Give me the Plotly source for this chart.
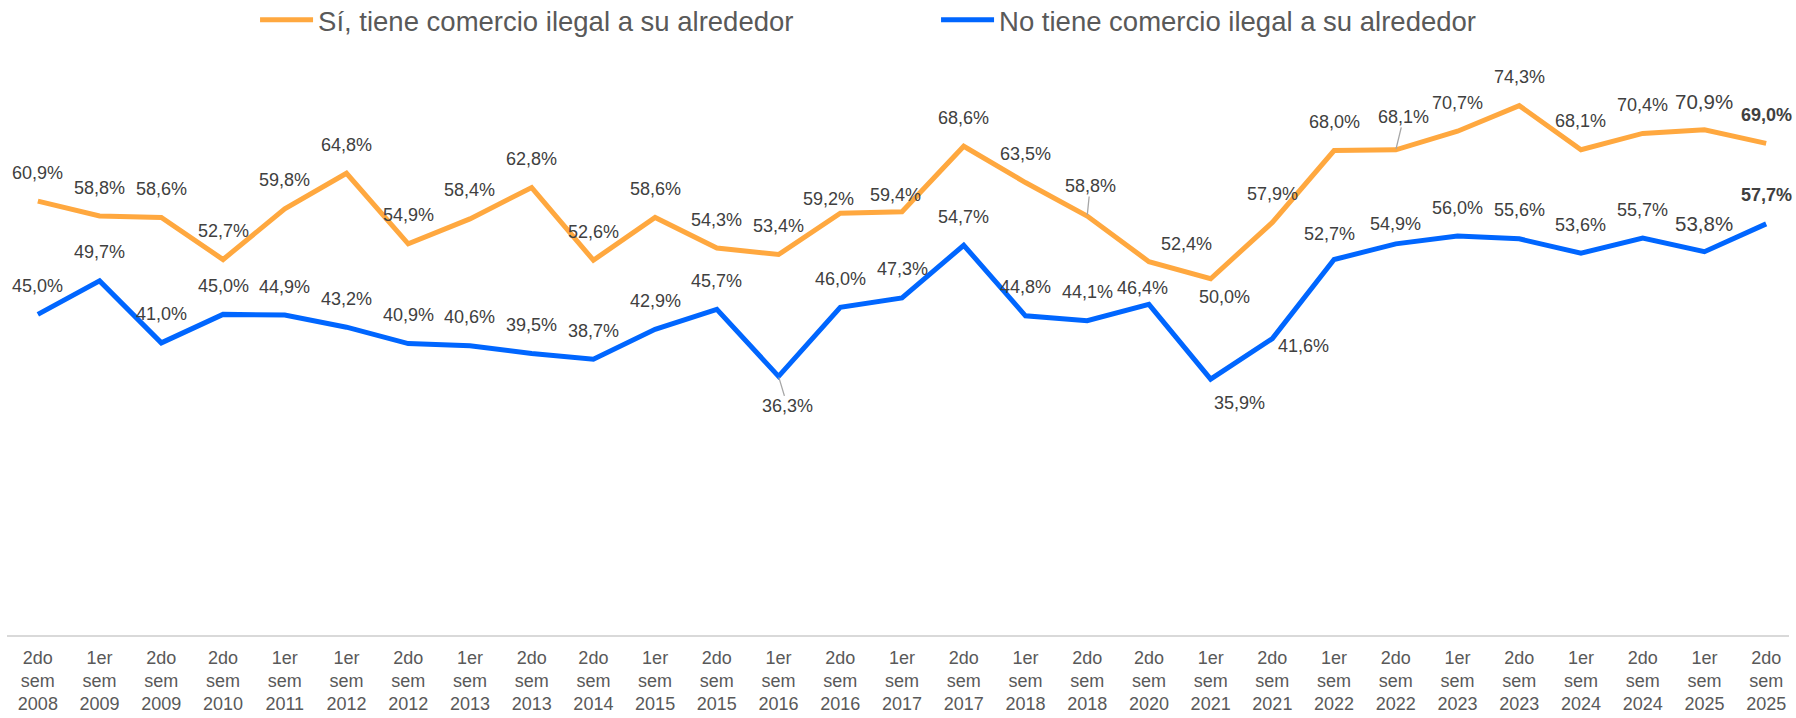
import plotly.graph_objects as go

# ---------------- data ----------------
periods = ["2do sem 2008", "1er sem 2009", "2do sem 2009", "2do sem 2010", "1er sem 2011",
           "1er sem 2012", "2do sem 2012", "1er sem 2013", "2do sem 2013", "2do sem 2014",
           "1er sem 2015", "2do sem 2015", "1er sem 2016", "2do sem 2016", "1er sem 2017",
           "2do sem 2017", "1er sem 2018", "2do sem 2018", "2do sem 2020", "1er sem 2021",
           "2do sem 2021", "1er sem 2022", "2do sem 2022", "1er sem 2023", "2do sem 2023",
           "1er sem 2024", "2do sem 2024", "1er sem 2025", "2do sem 2025"]
si_values = [60.9, 58.8, 58.6, 52.7, 59.8, 64.8, 54.9, 58.4, 62.8, 52.6, 58.6, 54.3, 53.4, 59.2,
             59.4, 68.6, 63.5, 58.8, 52.4, 50.0, 57.9, 68.0, 68.1, 70.7, 74.3, 68.1, 70.4, 70.9, 69.0]
no_values = [45.0, 49.7, 41.0, 45.0, 44.9, 43.2, 40.9, 40.6, 39.5, 38.7, 42.9, 45.7, 36.3, 46.0,
             47.3, 54.7, 44.8, 44.1, 46.4, 35.9, 41.6, 52.7, 54.9, 56.0, 55.6, 53.6, 55.7, 53.8, 57.7]
si_name = "Sí, tiene comercio ilegal a su alrededor"
no_name = "No tiene comercio ilegal a su alrededor"
tick_labels = [p.replace(" ", "<br>") for p in periods]

# ---------------- styles ----------------
FONT = "Liberation Sans, Arial, sans-serif"
ORANGE = "#FFA83F"
BLUE = "#0066FF"
LABEL_COLOR = "#404040"
DEFAULT_DY = -28.5  # label centre relative to point (px, + is down)

# label offset exceptions (dx, dy) in px; leader = draw a thin connector
si_offsets = {13: (-12, -14), 14: (-7, -17), 17: (3, -30), 18: (38, -18), 19: (14, 18), 22: (8, -33)}
no_offsets = {12: (9, 30), 18: (-6, -16), 19: (29, 24), 20: (31, 7), 21: (-5, -26), 22: (0, -20)}
si_leaders = {17, 22}
no_leaders = {12}
big_labels = {27}       # slightly larger font
bold_labels = {28}      # bold last value


def fmt(v):
    return f"{v:.1f}".replace(".", ",") + "%"


def make_labels(values, offsets, leaders):
    anns = []
    for i, v in enumerate(values):
        dx, dy = offsets.get(i, (0, DEFAULT_DY))
        size = 20.5 if i in big_labels else 18
        text = fmt(v)
        if i in bold_labels:
            text = "<b>" + text + "</b>"
        base = dict(x=periods[i], y=v, xref="x", yref="y", text=text,
                    font=dict(family=FONT, size=size, color=LABEL_COLOR))
        if i in leaders:
            base.update(showarrow=True, ax=dx, ay=dy, arrowhead=0, arrowwidth=1.3,
                        arrowcolor="#A6A6A6", standoff=1, borderpad=0)
        else:
            base.update(showarrow=False, xshift=dx, yshift=-dy, xanchor="center", yanchor="middle")
        anns.append(base)
    return anns


fig = go.Figure()
fig.add_trace(go.Scatter(x=periods, y=si_values, mode="lines", name=si_name,
                         line=dict(color=ORANGE, width=5), hoverinfo="skip"))
fig.add_trace(go.Scatter(x=periods, y=no_values, mode="lines", name=no_name,
                         line=dict(color=BLUE, width=5), hoverinfo="skip"))

annotations = make_labels(si_values, si_offsets, si_leaders) + make_labels(no_values, no_offsets, no_leaders)

fig.update_layout(
    width=1796, height=718,
    margin=dict(l=7, r=7, t=65, b=83, autoexpand=False),
    paper_bgcolor="white", plot_bgcolor="white",
    font=dict(family=FONT, color="#595959"),
    showlegend=True,
    legend=dict(orientation="h", x=0.1392, xanchor="left", y=1.079, yanchor="middle",
                font=dict(family=FONT, size=27.5, color="#595959"),
                itemwidth=53, entrywidth=613, entrywidthmode="pixels", bgcolor="rgba(0,0,0,0)",
                itemclick=False, itemdoubleclick=False),
    xaxis=dict(type="category", range=[-0.5, 28.37], tickvals=periods, ticktext=tick_labels,
               showgrid=False, zeroline=False, showline=True, linecolor="#D9D9D9", linewidth=2,
               ticks="", ticklabelstandoff=5,
               tickfont=dict(family=FONT, size=18, color="#595959"), fixedrange=True),
    yaxis=dict(range=[0, 80], visible=False, showgrid=False, zeroline=False, fixedrange=True),
    annotations=annotations,
)

fig.write_html("out.html", config={"displayModeBar": False},
               post_script="document.body.style.margin='0';document.body.style.overflow='hidden';")
